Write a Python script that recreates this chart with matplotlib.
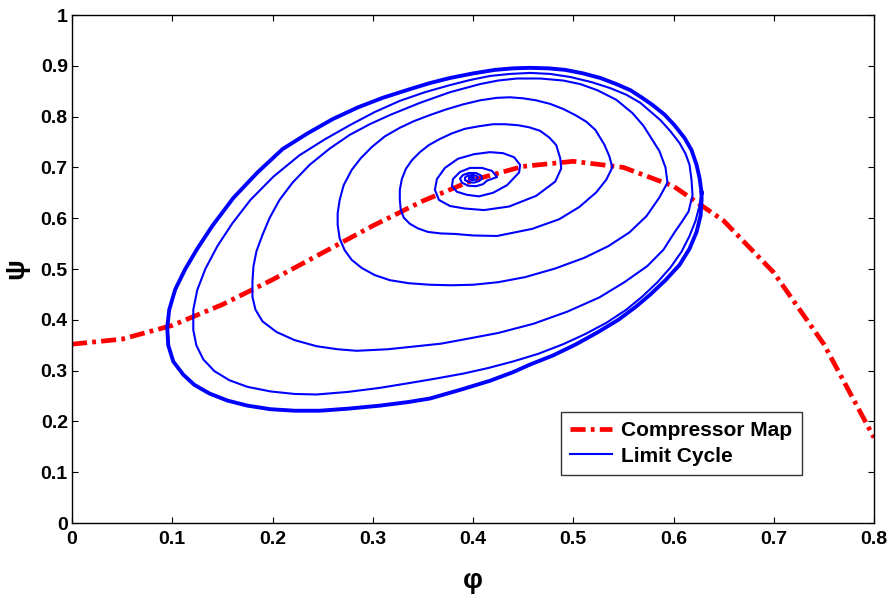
import numpy as np
import matplotlib
matplotlib.use('Agg')
import matplotlib.pyplot as plt

# compressor characteristic
map_phi = [0.0, 0.05, 0.10, 0.15, 0.20, 0.25, 0.30, 0.35, 0.40, 0.45, 0.50,
           0.55, 0.60, 0.65, 0.70, 0.75, 0.80]
map_psi = [0.352, 0.362, 0.389, 0.430, 0.479, 0.532, 0.585, 0.634, 0.675, 0.702, 0.712,
           0.700, 0.663, 0.595, 0.493, 0.352, 0.168]

# limit cycle trajectory, one array pair per revolution (inner -> outer)
rev0_phi = [0.399, 0.401, 0.399, 0.396, 0.396, 0.399, 0.403, 0.405, 0.404, 0.400, 0.395,
            0.392, 0.392, 0.396, 0.401, 0.406, 0.409, 0.408, 0.403, 0.396, 0.390, 0.387,
            0.389, 0.395, 0.403, 0.410, 0.414]
rev0_psi = [0.678, 0.680, 0.682, 0.680, 0.677, 0.675, 0.676, 0.679, 0.683, 0.685, 0.684,
            0.680, 0.675, 0.671, 0.670, 0.673, 0.678, 0.684, 0.689, 0.689, 0.685, 0.678,
            0.670, 0.664, 0.663, 0.667, 0.674]

rev1_phi = [0.424, 0.419, 0.409, 0.397, 0.387, 0.380, 0.379, 0.384, 0.394, 0.406, 0.420, 0.434]
rev1_psi = [0.681, 0.693, 0.699, 0.699, 0.691, 0.677, 0.663, 0.652, 0.646, 0.643, 0.650, 0.665]

rev2_phi = [0.446, 0.447, 0.441, 0.430, 0.417, 0.401, 0.385, 0.372, 0.364, 0.362, 0.366,
            0.377, 0.392, 0.411, 0.436, 0.463, 0.482]
rev2_psi = [0.690, 0.705, 0.720, 0.728, 0.730, 0.726, 0.717, 0.699, 0.677, 0.656, 0.636,
            0.624, 0.619, 0.616, 0.623, 0.644, 0.672]

rev3_phi = [0.488, 0.487, 0.483, 0.476, 0.467, 0.456, 0.445, 0.432, 0.420, 0.406, 0.392,
            0.379, 0.367, 0.356, 0.347, 0.339, 0.333, 0.329, 0.327, 0.327, 0.328, 0.331,
            0.337, 0.345, 0.355, 0.368, 0.382, 0.400, 0.424, 0.459, 0.486, 0.506, 0.523, 0.533]
rev3_psi = [0.698, 0.718, 0.744, 0.759, 0.772, 0.779, 0.783, 0.785, 0.785, 0.781, 0.776,
            0.767, 0.756, 0.744, 0.730, 0.714, 0.697, 0.677, 0.656, 0.636, 0.616, 0.601,
            0.589, 0.580, 0.573, 0.570, 0.569, 0.566, 0.565, 0.579, 0.598, 0.622, 0.651, 0.676]

rev4_phi = [0.539, 0.536, 0.531, 0.522, 0.513, 0.502, 0.490, 0.477, 0.463, 0.450, 0.437,
            0.424, 0.407, 0.390, 0.373, 0.357, 0.341, 0.327, 0.312, 0.299, 0.288, 0.279,
            0.271, 0.267, 0.265, 0.265, 0.267, 0.272, 0.279, 0.289, 0.302, 0.317, 0.336,
            0.357, 0.378, 0.400, 0.425, 0.452, 0.482, 0.511, 0.535, 0.556, 0.573, 0.586]
rev4_psi = [0.700, 0.722, 0.745, 0.774, 0.790, 0.803, 0.815, 0.825, 0.832, 0.836, 0.838,
            0.837, 0.832, 0.824, 0.814, 0.803, 0.791, 0.778, 0.761, 0.740, 0.718, 0.695,
            0.665, 0.636, 0.610, 0.587, 0.560, 0.537, 0.518, 0.502, 0.488, 0.478, 0.472,
            0.469, 0.468, 0.469, 0.474, 0.484, 0.501, 0.522, 0.545, 0.572, 0.604, 0.641]

rev5_phi = [0.594, 0.592, 0.586, 0.579, 0.570, 0.559, 0.543, 0.524, 0.507, 0.490, 0.467,
            0.444, 0.425, 0.407, 0.377, 0.347, 0.317, 0.297, 0.277, 0.257, 0.237, 0.220,
            0.207, 0.197, 0.190, 0.184, 0.181, 0.180, 0.180, 0.183, 0.190, 0.204, 0.222,
            0.244, 0.265, 0.284, 0.315, 0.344, 0.368, 0.390, 0.425, 0.460, 0.494, 0.526,
            0.551, 0.574, 0.590, 0.601, 0.608, 0.615]
rev5_psi = [0.670, 0.700, 0.732, 0.754, 0.782, 0.807, 0.833, 0.852, 0.864, 0.871, 0.875,
            0.875, 0.871, 0.864, 0.848, 0.827, 0.803, 0.785, 0.764, 0.737, 0.705, 0.670,
            0.636, 0.600, 0.567, 0.535, 0.505, 0.475, 0.445, 0.420, 0.397, 0.376, 0.360,
            0.348, 0.342, 0.339, 0.342, 0.348, 0.353, 0.361, 0.374, 0.392, 0.416, 0.444,
            0.474, 0.506, 0.538, 0.572, 0.592, 0.613]

rev6_phi = [0.619, 0.618, 0.616, 0.612, 0.606, 0.597, 0.587, 0.567, 0.553, 0.537, 0.518,
            0.497, 0.477, 0.457, 0.437, 0.417, 0.397, 0.377, 0.352, 0.327, 0.302, 0.277,
            0.252, 0.227, 0.201, 0.178, 0.160, 0.145, 0.133, 0.125, 0.121, 0.121, 0.124,
            0.131, 0.142, 0.157, 0.175, 0.198, 0.222, 0.244, 0.275, 0.307, 0.335, 0.362,
            0.390, 0.415, 0.440, 0.465, 0.490, 0.512, 0.533, 0.553, 0.569, 0.584, 0.597,
            0.608, 0.616, 0.622, 0.626]
rev6_psi = [0.645, 0.675, 0.705, 0.727, 0.748, 0.771, 0.793, 0.827, 0.843, 0.856, 0.868,
            0.878, 0.884, 0.886, 0.884, 0.880, 0.872, 0.862, 0.848, 0.831, 0.809, 0.783,
            0.755, 0.724, 0.682, 0.636, 0.590, 0.545, 0.500, 0.459, 0.420, 0.380, 0.350,
            0.322, 0.299, 0.281, 0.268, 0.259, 0.254, 0.253, 0.258, 0.266, 0.275, 0.284,
            0.294, 0.305, 0.318, 0.333, 0.352, 0.372, 0.394, 0.420, 0.446, 0.474, 0.503,
            0.534, 0.565, 0.595, 0.625]

cycle_phi = [0.628, 0.626, 0.623, 0.618, 0.611, 0.601, 0.591, 0.579, 0.568, 0.557, 0.543,
             0.527, 0.510, 0.492, 0.475, 0.457, 0.440, 0.422, 0.400, 0.377, 0.357, 0.337,
             0.310, 0.285, 0.260, 0.235, 0.210, 0.185, 0.161, 0.140, 0.125, 0.113, 0.103,
             0.097, 0.095, 0.096, 0.101, 0.111, 0.122, 0.137, 0.155, 0.175, 0.198, 0.222,
             0.247, 0.275, 0.307, 0.335, 0.357, 0.387, 0.417, 0.440, 0.457, 0.480, 0.503,
             0.524, 0.545, 0.562, 0.577, 0.592, 0.606, 0.616, 0.623, 0.627, 0.628, 0.628]
cycle_psi = [0.650, 0.679, 0.705, 0.734, 0.758, 0.783, 0.804, 0.823, 0.838, 0.852, 0.864,
             0.876, 0.885, 0.892, 0.895, 0.896, 0.895, 0.892, 0.885, 0.876, 0.866, 0.854,
             0.837, 0.818, 0.795, 0.767, 0.736, 0.690, 0.640, 0.585, 0.540, 0.500, 0.460,
             0.420, 0.385, 0.350, 0.318, 0.292, 0.272, 0.255, 0.241, 0.231, 0.224, 0.221,
             0.221, 0.225, 0.231, 0.238, 0.245, 0.262, 0.280, 0.297, 0.312, 0.330, 0.352,
             0.375, 0.400, 0.425, 0.450, 0.478, 0.508, 0.540, 0.573, 0.605, 0.636, 0.650]

traj_phi = rev0_phi + rev1_phi + rev2_phi + rev3_phi + rev4_phi + rev5_phi + rev6_phi + cycle_phi
traj_psi = rev0_psi + rev1_psi + rev2_psi + rev3_psi + rev4_psi + rev5_psi + rev6_psi + cycle_psi

plt.rcParams['font.family'] = ['Liberation Sans', 'DejaVu Sans']
plt.rcParams['font.weight'] = 'bold'

fig = plt.figure(figsize=(8.9, 6.03), dpi=100)
ax = fig.add_axes([72 / 890, 1 - 523 / 603, 802 / 890, 508 / 603])

ax.plot(map_phi, map_psi, color='red', linewidth=3.4,
        linestyle=(0, (3.2, 1.1, 0.8, 1.1)), label='Compressor Map')
ax.plot(traj_phi, traj_psi, color='blue', linewidth=1.5, label='Limit Cycle')
# converged cycle drawn heavier (several overlapping passes)
ax.plot(cycle_phi, cycle_psi, color='blue', linewidth=2.8)

ax.set_xlim(0, 0.8)
ax.set_ylim(0, 1)
ax.set_xticks(np.arange(0, 0.81, 0.1))
ax.set_yticks(np.arange(0, 1.01, 0.1))
ax.set_xticklabels(['0', '0.1', '0.2', '0.3', '0.4', '0.5', '0.6', '0.7', '0.8'])
ax.set_yticklabels(['0', '0.1', '0.2', '0.3', '0.4', '0.5', '0.6', '0.7', '0.8', '0.9', '1'])
ax.tick_params(direction='in', length=4, width=0.8, top=True, right=True, labelsize=14)
ax.tick_params(axis='x', pad=6)
ax.tick_params(axis='y', pad=3)
for s in ax.spines.values():
    s.set_linewidth(1.0)

ax.set_xlabel('φ', fontsize=20, fontweight='bold', labelpad=14)
ax.set_ylabel('ψ', fontsize=20, fontweight='bold', labelpad=8)

leg = ax.legend(loc='lower right', bbox_to_anchor=(0.910, 0.0945), fontsize=15,
                handlelength=2.0, frameon=True, fancybox=False, borderpad=0.45,
                labelspacing=0.3, handletextpad=0.45, borderaxespad=0)
leg.get_frame().set_edgecolor('black')
leg.get_frame().set_linewidth(1.0)

fig.savefig('out.png', dpi=100)
